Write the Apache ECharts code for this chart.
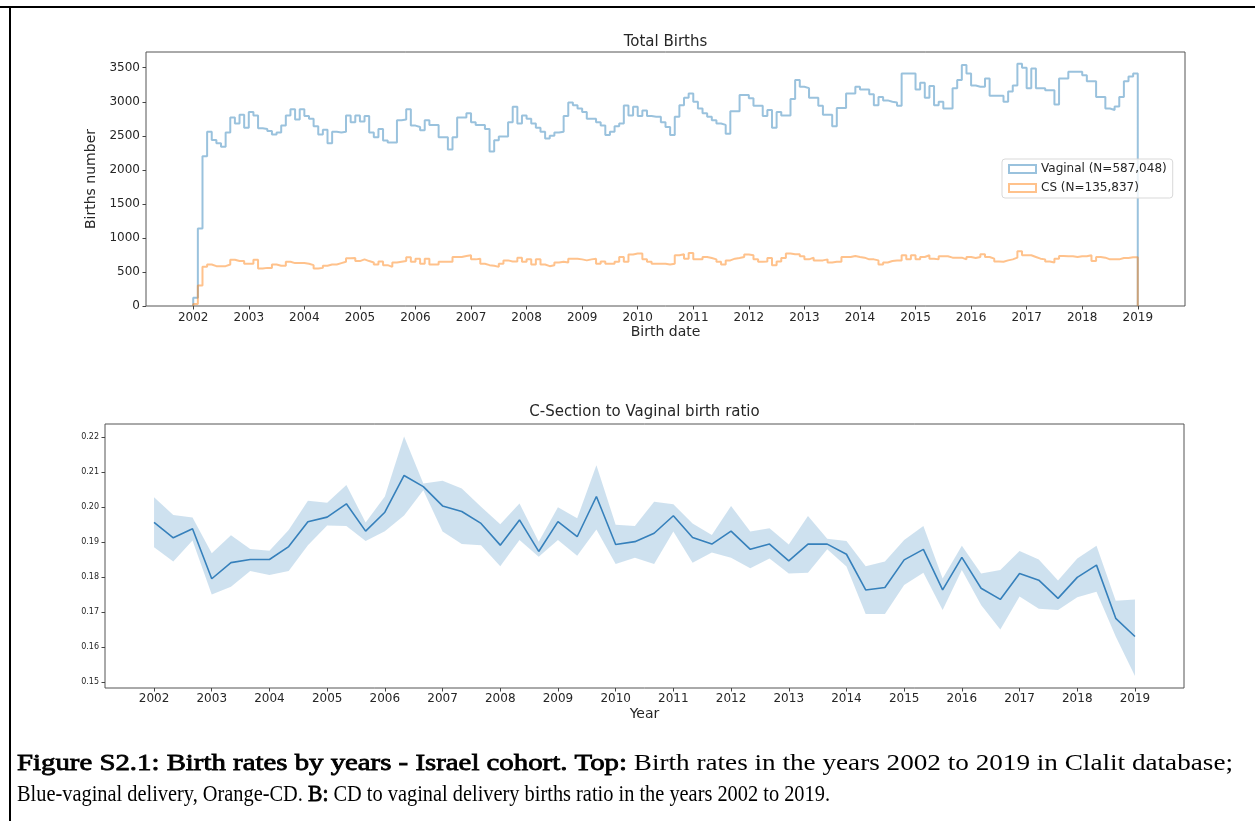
<!DOCTYPE html>
<html><head><meta charset="utf-8">
<script src="https://cdn.jsdelivr.net/npm/echarts@6/dist/echarts.min.js"></script>
<style>html,body{margin:0;padding:0;background:#fff}#c{width:1255px;height:821px}</style>
</head><body><div id="c"></div>
<script>
// ---------- data ----------
const yearTicks = [2002,2003,2004,2005,2006,2007,2008,2009,2010,2011,2012,2013,2014,2015,2016,2017,2018,2019];
const birthsTicks = [0,500,1000,1500,2000,2500,3000,3500];
const ratioTicks = [0.15,0.16,0.17,0.18,0.19,0.20,0.21,0.22];

// monthly births, Jan 2002 .. Dec 2018
const histStart = 2002;
const binsPerYear = 12;
const vaginal = [
 120,1140,2200,2560,2440,2390,2340,2550,2770,2680,2810,2620,
 2850,2800,2610,2600,2570,2520,2550,2650,2800,2890,2740,2890,
 2790,2750,2640,2520,2590,2390,2560,2550,2560,2800,2700,2800,
 2710,2790,2550,2480,2600,2430,2400,2400,2730,2740,2890,2650,
 2630,2580,2730,2660,2660,2480,2480,2300,2480,2770,2770,2830,
 2700,2660,2660,2600,2270,2435,2490,2490,2700,2925,2680,2800,
 2750,2680,2620,2560,2460,2500,2550,2560,2790,2990,2950,2900,
 2850,2750,2750,2700,2650,2510,2560,2640,2680,2945,2800,2925,
 2790,2870,2790,2780,2780,2700,2630,2510,2780,2950,3060,3120,
 3000,2900,2830,2780,2730,2680,2660,2530,2860,2860,3100,3100,
 3050,2940,2940,2790,2880,2620,2850,2800,2800,3040,3320,3220,
 3200,3060,3060,2940,2810,2810,2640,2910,2910,3120,3120,3220,
 3180,3180,3110,2950,3070,3020,3000,2990,2940,3415,3415,3415,
 3180,3280,3060,3230,2950,3000,2900,2900,3200,3320,3540,3415,
 3240,3220,3220,3340,3090,3090,3090,3000,3150,3240,3560,3500,
 3200,3490,3200,3200,3170,3170,2960,3340,3340,3440,3440,3440,
 3390,3300,3300,3070,3070,2900,2880,2930,3070,3300,3370,3415
];
const cs = [
 30,300,575,610,585,585,585,610,680,660,660,620,
 620,680,550,560,560,610,590,590,650,630,630,630,
 620,600,550,560,590,610,610,630,650,700,705,660,
 685,660,640,610,655,600,575,640,650,660,715,650,
 695,620,695,610,610,650,650,650,720,720,735,745,
 685,695,620,600,590,575,620,670,655,655,710,650,
 685,610,685,610,585,600,640,650,640,695,695,685,
 670,685,695,620,655,620,620,650,720,650,755,770,
 770,685,650,620,620,620,610,620,745,760,695,780,
 685,685,720,705,685,650,610,670,695,705,720,755,
 745,685,650,655,705,600,655,705,770,760,760,730,
 685,710,670,670,685,640,650,650,720,720,735,720,
 710,685,685,670,610,640,660,670,670,745,685,745,
 685,720,745,695,685,730,730,710,710,710,685,720,
 705,720,760,720,695,655,650,670,685,710,805,745,
 745,720,695,685,655,640,695,735,730,730,720,730,
 730,745,660,720,710,685,685,685,705,705,715,715
];
const seriesNames = ['Vaginal (N=587,048)', 'CS (N=135,837)'];

// ratio, every 4 months from 2002 to 2019
const ratioStart = 2002;
const ratioPerYear = 3;
const ratioMean = [0.1956,0.1912,0.1938,0.1795,0.1841,0.1850,0.1850,0.1887,0.1958,0.1971,0.2009,0.1931,0.1985,0.2090,0.2058,0.2003,0.1987,0.1953,0.1891,0.1963,0.1873,0.1958,0.1915,0.2030,0.1893,0.1901,0.1925,0.1975,0.1913,0.1894,0.1931,0.1879,0.1894,0.1846,0.1894,0.1894,0.1865,0.1763,0.1770,0.1849,0.1879,0.1763,0.1856,0.1768,0.1736,0.1810,0.1791,0.1739,0.1799,0.1834,0.1682,0.1630];
const ratioLow = [0.1885,0.1844,0.1904,0.1750,0.1772,0.1817,0.1806,0.1817,0.1891,0.1947,0.1946,0.1903,0.1931,0.1976,0.2048,0.1930,0.1894,0.1891,0.1831,0.1906,0.1858,0.1906,0.1861,0.1936,0.1837,0.1855,0.1837,0.1930,0.1841,0.1870,0.1855,0.1825,0.1853,0.1810,0.1812,0.1879,0.1830,0.1694,0.1694,0.1777,0.1812,0.1706,0.1820,0.1720,0.1650,0.1744,0.1709,0.1706,0.1742,0.1758,0.1630,0.1517];
const ratioHigh = [0.2028,0.1977,0.1970,0.1868,0.1919,0.1880,0.1875,0.1934,0.2018,0.2012,0.2063,0.1956,0.2030,0.2201,0.2067,0.2075,0.2053,0.2001,0.1951,0.2010,0.1901,0.1999,0.1968,0.2119,0.1949,0.1946,0.2015,0.2008,0.1953,0.1920,0.2003,0.1930,0.1939,0.1893,0.1974,0.1909,0.1903,0.1831,0.1844,0.1906,0.1946,0.1796,0.1889,0.1810,0.1820,0.1874,0.1850,0.1790,0.1853,0.1889,0.1732,0.1736];

// caption, [text, bold] runs per line
const captionLine1 = [['Figure S2.1: Birth rates by years - Israel cohort. Top:', true], [' Birth rates in the years 2002 to 2019 in Clalit database;', false]];
const captionLine2 = [['Blue-vaginal delivery, Orange-CD. ', false], ['B:', true], [' CD to vaginal delivery births ratio in the years 2002 to 2019.', false]];

// ---------- build ----------
function stepData(vals) {
  const end = histStart + vals.length / binsPerYear;
  const d = [[histStart, 0]];
  vals.forEach((v, k) => d.push([histStart + k / binsPerYear, v]));
  d.push([end, vals[vals.length - 1]]);
  d.push([end, 0]);
  return d;
}
const ratioX = ratioMean.map((_, i) => ratioStart + i / ratioPerYear);

const FONT = 'DejaVu Sans';
const TXT = '#262626';
function xAxis(gridIndex, name, nameGap, fs, margin) {
  return {
    type: 'value', gridIndex, min: 2001.15, max: 2019.85,
    name, nameLocation: 'middle', nameGap,
    nameTextStyle: {fontSize: 14, color: TXT, fontFamily: FONT},
    axisLine: {show: false}, splitLine: {show: false},
    axisTick: {show: true, length: 3.5, inside: false, lineStyle: {color: '#444', width: 1}, customValues: yearTicks},
    axisLabel: {fontSize: fs, color: TXT, fontFamily: FONT, margin, customValues: yearTicks, formatter: v => String(Math.round(v))}
  };
}

const C0 = 'rgba(31,119,180,0.45)';
const C1 = 'rgba(255,127,14,0.48)';

// caption layout: Times-like face, bold = stroked regular face,
// each line scaled horizontally to the width it takes in the figure
const cv = document.createElement('canvas').getContext('2d');
const CFS = 24;
const fR = CFS + 'px "Liberation Serif"';
const BOLDW = 1.06;
function w(s) { cv.font = fR; return cv.measureText(s).width; }
function lineWidth(line) { return line.reduce((a, [t, b]) => a + w(t) * (b ? BOLDW : 1), 0); }
function layoutLine(line, y, width) {
  const sx = width / lineWidth(line);
  let x = 17;
  return line.map(([t, b]) => {
    const s = sx * (b ? BOLDW : 1);
    const style = {text: t, font: fR, fill: '#000', verticalAlign: 'middle'};
    if (b) { style.stroke = '#000'; style.lineWidth = 0.8; }
    const el = {type: 'text', x, y, scaleX: s, silent: true, style};
    x += w(t) * s;
    return el;
  });
}

const chart = echarts.init(document.getElementById('c'), null, {renderer: 'canvas'});
chart.setOption({
  backgroundColor: '#fff',
  animation: false,
  title: [
    {text: 'Total Births', left: 665.5, top: 35, textAlign: 'center', padding: 0,
     textStyle: {fontSize: 15, fontWeight: 'normal', color: TXT, fontFamily: FONT}},
    {text: 'C-Section to Vaginal birth ratio', left: 644.5, top: 405, textAlign: 'center', padding: 0,
     textStyle: {fontSize: 15, fontWeight: 'normal', color: TXT, fontFamily: FONT}}
  ],
  legend: {
    orient: 'vertical', left: 1002, top: 159, padding: [3, 6],
    backgroundColor: 'rgba(255,255,255,0.8)', borderColor: '#d9d9d9', borderWidth: 1, borderRadius: 3,
    itemWidth: 27, itemHeight: 8, itemGap: 5, itemTextGap: 7,
    textStyle: {fontSize: 12, color: TXT, fontFamily: FONT, lineHeight: 14},
    data: [
      {name: seriesNames[0], icon: 'rect', itemStyle: {color: 'rgba(0,0,0,0)', borderColor: C0, borderWidth: 2}},
      {name: seriesNames[1], icon: 'rect', itemStyle: {color: 'rgba(0,0,0,0)', borderColor: C1, borderWidth: 2}}
    ]
  },
  grid: [
    {left: 146, top: 52, width: 1039, height: 254, show: true, borderColor: '#555', borderWidth: 1, backgroundColor: 'rgba(0,0,0,0)'},
    {left: 105, top: 424, width: 1079, height: 264, show: true, borderColor: '#555', borderWidth: 1, backgroundColor: 'rgba(0,0,0,0)'}
  ],
  xAxis: [
    xAxis(0, 'Birth date', 19, 12, 6),
    xAxis(1, 'Year', 19, 12, 5)
  ],
  yAxis: [
    {type: 'value', gridIndex: 0, min: 0, max: 3731, name: 'Births number', nameLocation: 'middle', nameGap: 42,
     nameTextStyle: {fontSize: 14, color: TXT, fontFamily: FONT},
     axisLine: {show: false}, splitLine: {show: false},
     axisTick: {show: true, length: 3.5, lineStyle: {color: '#444'}, customValues: birthsTicks},
     axisLabel: {fontSize: 12, color: TXT, fontFamily: FONT, margin: 6, customValues: birthsTicks, formatter: v => String(Math.round(v))}},
    {type: 'value', gridIndex: 1, min: 0.1483, max: 0.2237,
     axisLine: {show: false}, splitLine: {show: false},
     axisTick: {show: true, length: 3.5, lineStyle: {color: '#444'}, customValues: ratioTicks},
     axisLabel: {fontSize: 8, color: TXT, fontFamily: FONT, margin: 6, customValues: ratioTicks, formatter: v => v.toFixed(2)}}
  ],
  series: [
    {name: seriesNames[0], type: 'line', xAxisIndex: 0, yAxisIndex: 0, step: 'end', showSymbol: false, symbol: 'none',
     data: stepData(vaginal), lineStyle: {color: C0, width: 2}, itemStyle: {color: C0}},
    {name: seriesNames[1], type: 'line', xAxisIndex: 0, yAxisIndex: 0, step: 'end', showSymbol: false, symbol: 'none',
     data: stepData(cs), lineStyle: {color: C1, width: 2}, itemStyle: {color: C1}},
    {type: 'custom', xAxisIndex: 1, yAxisIndex: 1, silent: true,
     data: ratioX.map((x, i) => [x, ratioLow[i], ratioHigh[i]]),
     encode: {x: 0, y: [1, 2]},
     renderItem: function (params, api) {
       if (params.dataIndex !== 0) return null;
       const pts = [];
       for (let i = 0; i < ratioX.length; i++) pts.push(api.coord([ratioX[i], ratioHigh[i]]));
       for (let i = ratioX.length - 1; i >= 0; i--) pts.push(api.coord([ratioX[i], ratioLow[i]]));
       return {type: 'polygon', shape: {points: pts}, style: {fill: 'rgba(31,119,180,0.22)'}};
     }},
    {type: 'line', xAxisIndex: 1, yAxisIndex: 1, showSymbol: false, symbol: 'none',
     data: ratioX.map((x, i) => [x, ratioMean[i]]), lineStyle: {color: '#3680bb', width: 1.6}}
  ],
  graphic: [
    {type: 'rect', shape: {x: 0, y: 6, width: 1255, height: 2}, style: {fill: '#000'}, silent: true},
    {type: 'rect', shape: {x: 9, y: 6, width: 2, height: 815}, style: {fill: '#000'}, silent: true}
  ].concat(
    layoutLine(captionLine1, 764, 1216),
    layoutLine(captionLine2, 795, 813)
  )
});
</script></body></html>
